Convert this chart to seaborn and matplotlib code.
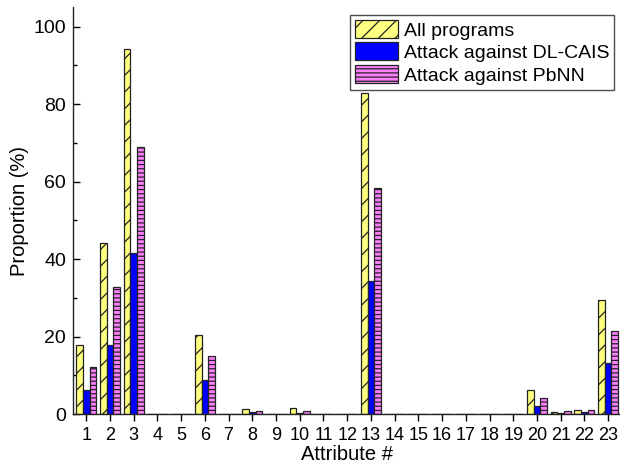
import pandas as pd
import matplotlib
matplotlib.use("Agg")
import matplotlib.pyplot as plt
import seaborn as sns
from matplotlib.patches import Patch
from matplotlib.ticker import FixedLocator, MultipleLocator

# values (percent)
attributes = [str(i) for i in range(1, 24)]
all_programs = [17.8, 44.2, 94.1, 0, 0, 20.5, 0, 1.3, 0, 1.6, 0, 0, 82.9,
                0, 0, 0, 0, 0, 0, 6.3, 0.6, 1.0, 29.5]
dl_cais = [6.3, 17.8, 41.5, 0, 0, 8.9, 0, 0.5, 0, 0.3, 0, 0, 34.4,
           0, 0, 0, 0, 0, 0, 2.2, 0.3, 0.6, 13.2]
pbnn = [12.2, 32.7, 69.0, 0, 0, 14.9, 0, 0.9, 0, 0.9, 0, 0, 58.4,
        0, 0, 0, 0, 0, 0, 4.3, 0.7, 1.0, 21.5]
series_names = ["All programs", "Attack against DL-CAIS", "Attack against PbNN"]

df = pd.DataFrame({
    "Attribute": attributes * 3,
    "Proportion": all_programs + dl_cais + pbnn,
    "Series": [series_names[0]] * 23 + [series_names[1]] * 23 + [series_names[2]] * 23,
})

colors = ["#FFFF80", "#0000FF", "#FF80FF"]
hatches = ["//", "", "----"]

sns.set_style("white")
plt.rcParams["font.family"] = ["Liberation Sans", "DejaVu Sans"]
plt.rcParams["hatch.linewidth"] = 0.9
plt.rcParams["hatch.color"] = "#333333"
for key in ["text.color", "axes.labelcolor", "xtick.color", "ytick.color"]:
    plt.rcParams[key] = "black"

fig = plt.figure(figsize=(6.2, 4.75), dpi=100)
ax = fig.add_axes([0.118, 0.128, 0.882, 0.857])

sns.barplot(data=df, x="Attribute", y="Proportion", hue="Series",
            hue_order=series_names, palette=colors, width=0.84, gap=0,
            saturation=1, edgecolor="#222222", linewidth=0.9, ax=ax, legend=False)

for cont, h in zip(ax.containers, hatches):
    for bar in cont:
        bar.set_hatch(h)

ax.set_xlim(-0.55, 22.5)
ax.set_ylim(0, 105)
ax.yaxis.set_major_locator(FixedLocator([0, 20, 40, 60, 80, 100]))
ax.yaxis.set_minor_locator(MultipleLocator(10))
ax.xaxis.set_minor_locator(FixedLocator([4, 9, 14, 19]))

ax.tick_params(axis="x", which="major", direction="out", length=5, width=1,
               labelsize=13, pad=4, bottom=True)
ax.tick_params(axis="x", which="minor", direction="out", length=8, width=1, bottom=True)
ax.tick_params(axis="y", which="major", direction="in", length=5, width=1,
               labelsize=14, pad=5, left=True)
ax.tick_params(axis="y", which="minor", direction="in", length=3, width=1, left=True)

for side in ["top", "right"]:
    ax.spines[side].set_visible(False)
for side in ["left", "bottom"]:
    ax.spines[side].set_color("#222222")
    ax.spines[side].set_linewidth(1)

ax.set_xlabel("Attribute #", fontsize=14.5, labelpad=1)
ax.set_ylabel("Proportion (%)", fontsize=14.5, labelpad=3)

handles = [Patch(facecolor=c, edgecolor="#222222", hatch=h, linewidth=0.9)
           for c, h in zip(colors, hatches)]
leg = fig.legend(handles, series_names, loc="upper right",
                 bbox_to_anchor=(614 / 620, 1 - 15 / 475), bbox_transform=fig.transFigure,
                 fontsize=14, frameon=True, fancybox=False, borderaxespad=0,
                 borderpad=0.25, handlelength=2.2, handleheight=1.05,
                 labelspacing=0.15, handletextpad=0.3)
leg.get_frame().set_edgecolor("#222222")
leg.get_frame().set_linewidth(1)

fig.savefig("out.png", dpi=100)
